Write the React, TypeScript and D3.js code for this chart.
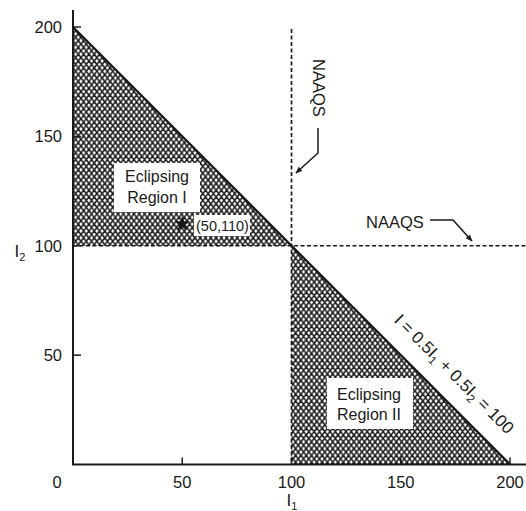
import React from "react";
import * as d3 from "d3";

const xTicks = [50, 100, 150, 200];
const yTicks = [50, 100, 150, 200];
const xTickLabels = ["50", "100", "150", "200"];
const yTickLabels = ["50", "100", "150", "200"];
const naaqsI1 = 100;
const naaqsI2 = 100;
const totalLimit = 200; // 0.5*I1 + 0.5*I2 = 100
const regionI = [[0, 100], [0, 200], [100, 100]];
const regionII = [[100, 100], [100, 0], [200, 0]];
const pointXY = [50, 110];
const pointLabel = "(50,110)";

const W = 526;
const H = 511;

export default function App() {
  const x = d3.scaleLinear().domain([0, 200]).range([73, 510]);
  const y = d3.scaleLinear().domain([0, 200]).range([464.5, 27]);
  const line = d3.line<number[]>().x((d) => x(d[0])).y((d) => y(d[1]));
  const font = "'Liberation Sans', Arial, Helvetica, sans-serif";
  const ink = "#1a1a1a";
  const star = d3.symbol().type(d3.symbolStar).size(80)();

  return (
    <svg width={W} height={H} style={{ position: "absolute", left: 0, top: 0, background: "#fff" }} fontFamily={font}>
      <defs>
        <pattern id="xhatch" patternUnits="userSpaceOnUse" width={5.3} height={6.8} x={x(0)} y={y(200)}>
          <line x1={0} y1={0} x2={5.3} y2={6.8} stroke={ink} strokeWidth={1.55} />
          <line x1={5.3} y1={0} x2={0} y2={6.8} stroke={ink} strokeWidth={1.55} />
          <line x1={-5.3} y1={0} x2={0} y2={6.8} stroke={ink} strokeWidth={1.55} />
          <line x1={10.6} y1={0} x2={5.3} y2={6.8} stroke={ink} strokeWidth={1.55} />
        </pattern>
        <marker id="arr" viewBox="0 0 10 10" refX={9} refY={5} markerWidth={7} markerHeight={7} orient="auto" markerUnits="userSpaceOnUse">
          <path d="M0,1 L10,5 L0,9 Z" fill={ink} />
        </marker>
      </defs>
      <rect x={0} y={0} width={W} height={H} fill="#fff" />

      {/* hatched regions */}
      <path d={line(regionI as any) + "Z"} fill="url(#xhatch)" />
      <path d={line(regionII as any) + "Z"} fill="url(#xhatch)" />

      {/* NAAQS dashed lines */}
      <line x1={x(naaqsI1)} x2={x(naaqsI1)} y1={29} y2={y(0)} stroke={ink} strokeWidth={1.7} strokeDasharray="4,2.5" />
      <line x1={x(0)} x2={W} y1={y(naaqsI2)} y2={y(naaqsI2)} stroke={ink} strokeWidth={1.7} strokeDasharray="4,2.5" />

      {/* total line */}
      <line x1={x(0)} y1={y(totalLimit)} x2={x(totalLimit)} y2={y(0)} stroke={ink} strokeWidth={2.3} />

      {/* axes */}
      <line x1={x(0)} x2={x(0)} y1={10} y2={y(0)} stroke={ink} strokeWidth={2} />
      <line x1={x(0) - 1} x2={W} y1={y(0)} y2={y(0)} stroke={ink} strokeWidth={2} />
      {yTicks.map((t) => (
        <line key={"yt" + t} x1={x(0)} x2={x(0) + 8} y1={y(t)} y2={y(t)} stroke={ink} strokeWidth={1.5} />
      ))}
      {xTicks.map((t) => (
        <line key={"xt" + t} x1={x(t)} x2={x(t)} y1={y(0)} y2={y(0) - 7} stroke={ink} strokeWidth={1.5} />
      ))}
      {yTicks.map((t, i) => (
        <text key={"yl" + t} x={62} y={y(t)} dy="0.36em" textAnchor="end" fontSize={16.5} fill={ink}>{yTickLabels[i]}</text>
      ))}
      {xTicks.map((t, i) => (
        <text key={"xl" + t} x={x(t)} y={488} textAnchor="middle" fontSize={16.5} fill={ink}>{xTickLabels[i]}</text>
      ))}
      <text x={57} y={488} textAnchor="middle" fontSize={16.5} fill={ink}>0</text>

      {/* axis titles */}
      <text x={292} y={506} textAnchor="middle" fontSize={17} fill={ink}>I<tspan fontSize={11} dy={4}>1</tspan></text>
      <text x={20} y={257} textAnchor="middle" fontSize={17} fill={ink}>I<tspan fontSize={11} dy={4}>2</tspan></text>

      {/* Region I label */}
      <rect x={114} y={163} width={86} height={49} fill="#fff" />
      <text x={157} y={182} textAnchor="middle" fontSize={16} fill={ink}>Eclipsing</text>
      <text x={157} y={203} textAnchor="middle" fontSize={16} fill={ink}>Region I</text>

      {/* point */}
      <rect x={194} y={215} width={56} height={21} fill="#fff" />
      <path d={star as string} transform={`translate(${x(pointXY[0])},${y(pointXY[1])})`} fill={ink} />
      <text x={196} y={231} fontSize={14.5} fill={ink}>{pointLabel}</text>

      {/* Region II label */}
      <rect x={327} y={378} width={86} height={51} fill="#fff" />
      <text x={369} y={400} textAnchor="middle" fontSize={16} fill={ink}>Eclipsing</text>
      <text x={369} y={420} textAnchor="middle" fontSize={16} fill={ink}>Region II</text>

      {/* NAAQS labels */}
      <text transform="translate(313,88) rotate(90)" textAnchor="middle" fontSize={16.5} fill={ink}>NAAQS</text>
      <path d="M318,128 L318,153 L296,173" fill="none" stroke={ink} strokeWidth={1.5} markerEnd="url(#arr)" />
      <text x={395} y={228} textAnchor="middle" fontSize={16.5} fill={ink}>NAAQS</text>
      <path d="M430,220 L453,220 L472,241" fill="none" stroke={ink} strokeWidth={1.5} markerEnd="url(#arr)" />

      {/* equation label */}
      <text transform="translate(450,378) rotate(45)" textAnchor="middle" fontSize={17} fill={ink}>
        I = 0.5I<tspan fontSize={11.5} dy={4}>1</tspan><tspan dy={-4}> + 0.5I</tspan><tspan fontSize={11.5} dy={4}>2</tspan><tspan dy={-4}> = 100</tspan>
      </text>
    </svg>
  );
}
